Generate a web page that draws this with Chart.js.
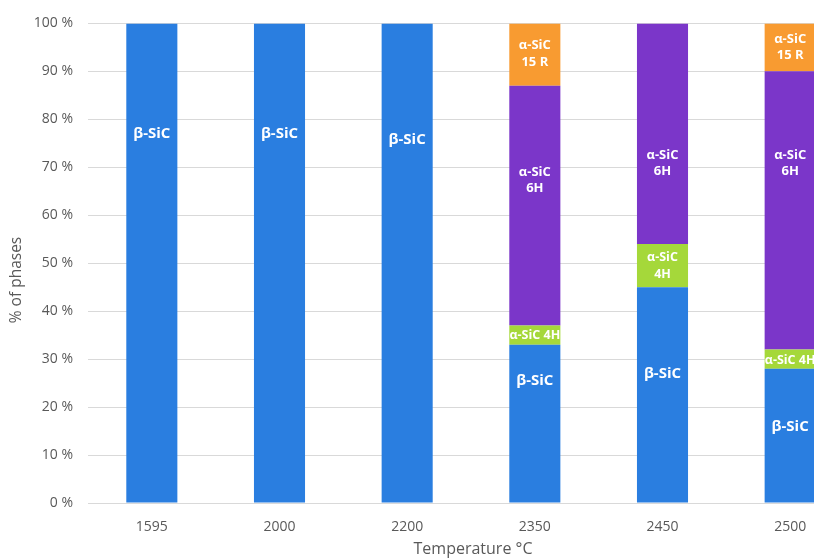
<!DOCTYPE html>
<html>
<head>
<meta charset="utf-8">
<script src="https://cdn.jsdelivr.net/npm/chart.js@4"></script>
<style>
  html, body { margin: 0; padding: 0; background: #fff; overflow: hidden; }
  .chart-container { width: 860px; height: 558px; }
</style>
</head>
<body>
<div class="chart-container">
    <canvas id="phaseChart" width="860" height="558"></canvas>
</div>

<script>
// Phase fractions (%) per synthesis temperature
const temps = ['1595', '2000', '2200', '2350', '2450', '2500'];
const betaSiC = [100, 100, 100, 33, 45, 28];
const alpha4H = [0, 0, 0, 4, 9, 4];
const alpha6H = [0, 0, 0, 50, 46, 58];
const alpha15R = [0, 0, 0, 13, 0, 10];

// In-bar label text and where (in % units) each label sits
const betaText = ['β-SiC', 'β-SiC', 'β-SiC', 'β-SiC', 'β-SiC', 'β-SiC'];
const betaLabelAt = [77, 77, 75.8, 25.5, 27, 16];
const a4HText = [null, null, null, 'α-SiC 4H', 'α-SiC\n4H', 'α-SiC 4H'];
const a4HLabelAt = [null, null, null, 35, 49.5, 29.8];
const a6HText = [null, null, null, 'α-SiC\n6H', 'α-SiC\n6H', 'α-SiC\n6H'];
const a6HLabelAt = [null, null, null, 67.3, 70.8, 70.8];
const a15RText = [null, null, null, 'α-SiC\n15 R', null, 'α-SiC\n15 R'];
const a15RLabelAt = [null, null, null, 93.6, null, 95];

const yTicks = [0, 10, 20, 30, 40, 50, 60, 70, 80, 90, 100];

const barLabels = {
    id: 'barLabels',
    afterDatasetsDraw(chart) {
        const ctx = chart.ctx;
        const yScale = chart.scales.y;
        ctx.save();
        ctx.fillStyle = '#ffffff';
        ctx.textAlign = 'center';
        ctx.textBaseline = 'middle';
        chart.data.datasets.forEach((ds, di) => {
            const meta = chart.getDatasetMeta(di);
            meta.data.forEach((bar, i) => {
                const txt = ds.labelText[i];
                if (!txt) return;
                const lines = txt.split('\n');
                const size = ds.labelSize;
                ctx.font = 'bold ' + size + 'px "Open Sans", sans-serif';
                const lh = 16.7;
                const cy = yScale.getPixelForValue(ds.labelAt[i]);
                lines.forEach((ln, k) => {
                    ctx.fillText(ln, bar.x, cy + (k - (lines.length - 1) / 2) * lh);
                });
            });
        });
        ctx.restore();
    }
};

// axis titles, drawn where the original puts them
const axisTitles = {
    id: 'axisTitles',
    afterDraw(chart) {
        const ctx = chart.ctx;
        const area = chart.chartArea;
        ctx.save();
        ctx.fillStyle = '#595959';
        ctx.textAlign = 'center';
        ctx.textBaseline = 'middle';
        ctx.font = '16px "Open Sans", sans-serif';
        ctx.fillText('Temperature °C', (area.left + area.right) / 2 + 2, 549);
        ctx.translate(17, 280);
        ctx.rotate(-Math.PI / 2);
        ctx.font = '15.5px "Open Sans", sans-serif';
        ctx.fillText('% of phases', 0, 0);
        ctx.restore();
    }
};

const ctx = document.getElementById('phaseChart').getContext('2d');
new Chart(ctx, {
    type: 'bar',
    data: {
        labels: temps,
        datasets: [
            { label: 'β-SiC', data: betaSiC, backgroundColor: '#2a7ee0', labelText: betaText, labelAt: betaLabelAt, labelSize: 15 },
            { label: 'α-SiC 4H', data: alpha4H, backgroundColor: '#a5d83a', labelText: a4HText, labelAt: a4HLabelAt, labelSize: 12.5 },
            { label: 'α-SiC 6H', data: alpha6H, backgroundColor: '#7b36c9', labelText: a6HText, labelAt: a6HLabelAt, labelSize: 13 },
            { label: 'α-SiC 15 R', data: alpha15R, backgroundColor: '#f89b31', labelText: a15RText, labelAt: a15RLabelAt, labelSize: 13 }
        ]
    },
    options: {
        responsive: false,
        animation: false,
        layout: { padding: { top: 20, right: 6, left: 0, bottom: 0 } },
        datasets: {
            bar: { categoryPercentage: 1, barPercentage: 0.4, borderWidth: 0 }
        },
        scales: {
            x: {
                stacked: true,
                grid: { display: false, drawTicks: false },
                border: { color: '#d9d9d9' },
                ticks: {
                    padding: 16,
                    color: '#595959',
                    font: { family: 'Open Sans', size: 14 }
                },
                afterFit(scale) { scale.height = 55; }
            },
            y: {
                stacked: true,
                min: 0,
                max: 100,
                afterBuildTicks(scale) { scale.ticks = yTicks.map(v => ({ value: v })); },
                grid: { color: '#d9d9d9', drawTicks: false },
                border: { display: false },
                ticks: {
                    padding: 15,
                    color: '#595959',
                    font: { family: 'Open Sans', size: 14 },
                    callback: v => v + ' %'
                },
                afterFit(scale) { scale.width = 88; }
            }
        },
        plugins: {
            legend: { display: false },
            tooltip: { enabled: false }
        }
    },
    plugins: [barLabels, axisTitles]
});
</script>
</body>
</html>
